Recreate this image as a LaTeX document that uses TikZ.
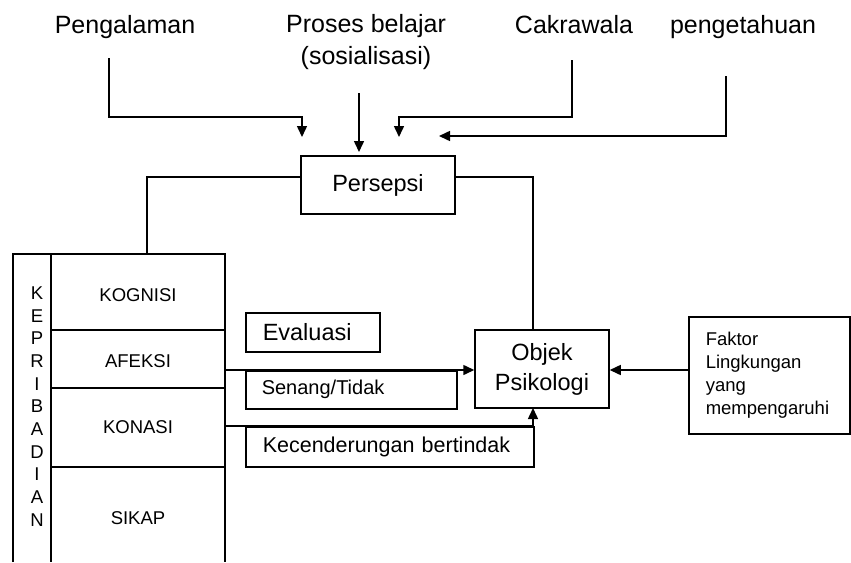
\documentclass[tikz,border=0pt]{standalone}
\usepackage{fontspec}
\setmainfont{Liberation Sans}
\usetikzlibrary{arrows.meta}

\newcommand{\fs}[2]{\fontsize{#1}{#2}\selectfont}
\tikzset{
  garis/.style={line width=1.5pt},
  panah/.style={garis, -{Triangle[length=11pt,width=10pt]}},
  kotak/.style={draw, line width=1.5pt, inner sep=0pt},
  isian/.style={kotak, anchor=north west, align=left},
  kecil/.style={font=\fs{18.5}{22.7}},
}

\begin{document}
\begin{tikzpicture}[x=1pt,y=-1pt]
  \useasboundingbox (0,0) rectangle (851,562);

  % labels on top
  \node[anchor=base, font=\fs{25}{32}] (pengalaman) at (125,33) {Pengalaman};
  \node[align=center, font=\fs{25}{32}] (proses) at (366,42.5) {Proses belajar\\(sosialisasi)};
  \node[anchor=base, font=\fs{25}{32}] (cakrawala) at (574,33) {Cakrawala};
  \node[anchor=base, font=\fs{25}{32}] (pengetahuan) at (743,33) {pengetahuan};

  % persepsi
  \node[kotak, minimum width=154pt, minimum height=58pt, font=\fs{23.5}{28}] (persepsi) at (378,185) {Persepsi};

  \coordinate (pgA) at (109,58);  \coordinate (pgB) at (302,137);
  \coordinate (prA) at (359,93);  \coordinate (prB) at (359,152);
  \coordinate (ckA) at (572,60);  \coordinate (ckB) at (399,137);
  \coordinate (ptA) at (726,76);  \coordinate (ptB) at (439,136);
  \draw[panah] (pgA) -- ++(0,59) -| (pgB);
  \draw[panah] (prA) -- (prB);
  \draw[panah] (ckA) -- ++(0,57) -| (ckB);
  \draw[panah] (ptA) |- (ptB);

  % kepribadian
  \draw[garis] (13,562) -- (13,254) -- (225,254) -- (225,562);
  \draw[garis] (51,254) -- (51,562);
  \foreach \y in {330,388,467}
    \draw[garis] (51,\y) -- (225,\y);
  \foreach \h [count=\i] in {K,E,P,R,I,B,A,D,I,A,N}
    \node[kecil] (kp\i) at (37,{293+22.7*(\i-1)}) {\h};
  \node[kecil] (kognisi) at (138,295) {KOGNISI};
  \node[kecil] (afeksi) at (138,361) {AFEKSI};
  \node[kecil] (konasi) at (138,427) {KONASI};
  \node[kecil] (sikap) at (138,518) {SIKAP};

  % objek psikologi and the boxes
  \node[kotak, minimum width=134pt, minimum height=78pt, align=center, font=\fs{23.5}{30}] (objek) at (542,369) {Objek\\Psikologi};
  \node[isian, minimum height=39pt, inner xsep=17pt, text width=100pt, font=\fs{23.5}{28}] (evaluasi) at (245,312) {Evaluasi};
  \node[isian, minimum height=38pt, inner xsep=16pt, text width=179pt, font=\fs{20}{24}] (senang) at (245,370) {Senang/Tidak};
  \node[isian, minimum height=40pt, inner xsep=17pt, text width=254pt, font=\fs{21.5}{26}] (cenderung) at (245,426) {Kecenderungan bertindak};
  \node[isian, minimum height=117pt, inner xsep=17pt, text width=127pt, kecil] (faktor) at (688,316) {Faktor\\Lingkungan\\yang\\mempengaruhi};

  % connectors
  \coordinate (kpTop) at (147,254);
  \coordinate (obTop) at (533,330);
  \coordinate (obBot) at (533,408);
  \coordinate (afA) at (225,370);
  \coordinate (knA) at (225,426);
  \draw[garis] ([yshift=8pt]persepsi.west) -| (kpTop);
  \draw[garis] ([yshift=8pt]persepsi.east) -| (obTop);
  \draw[panah] (afA) -- (afA -| objek.west);
  \draw[panah] (knA) -| (obBot);
  \draw[panah] (faktor.west |- afA) -- (objek.east |- afA);
\end{tikzpicture}
\end{document}
